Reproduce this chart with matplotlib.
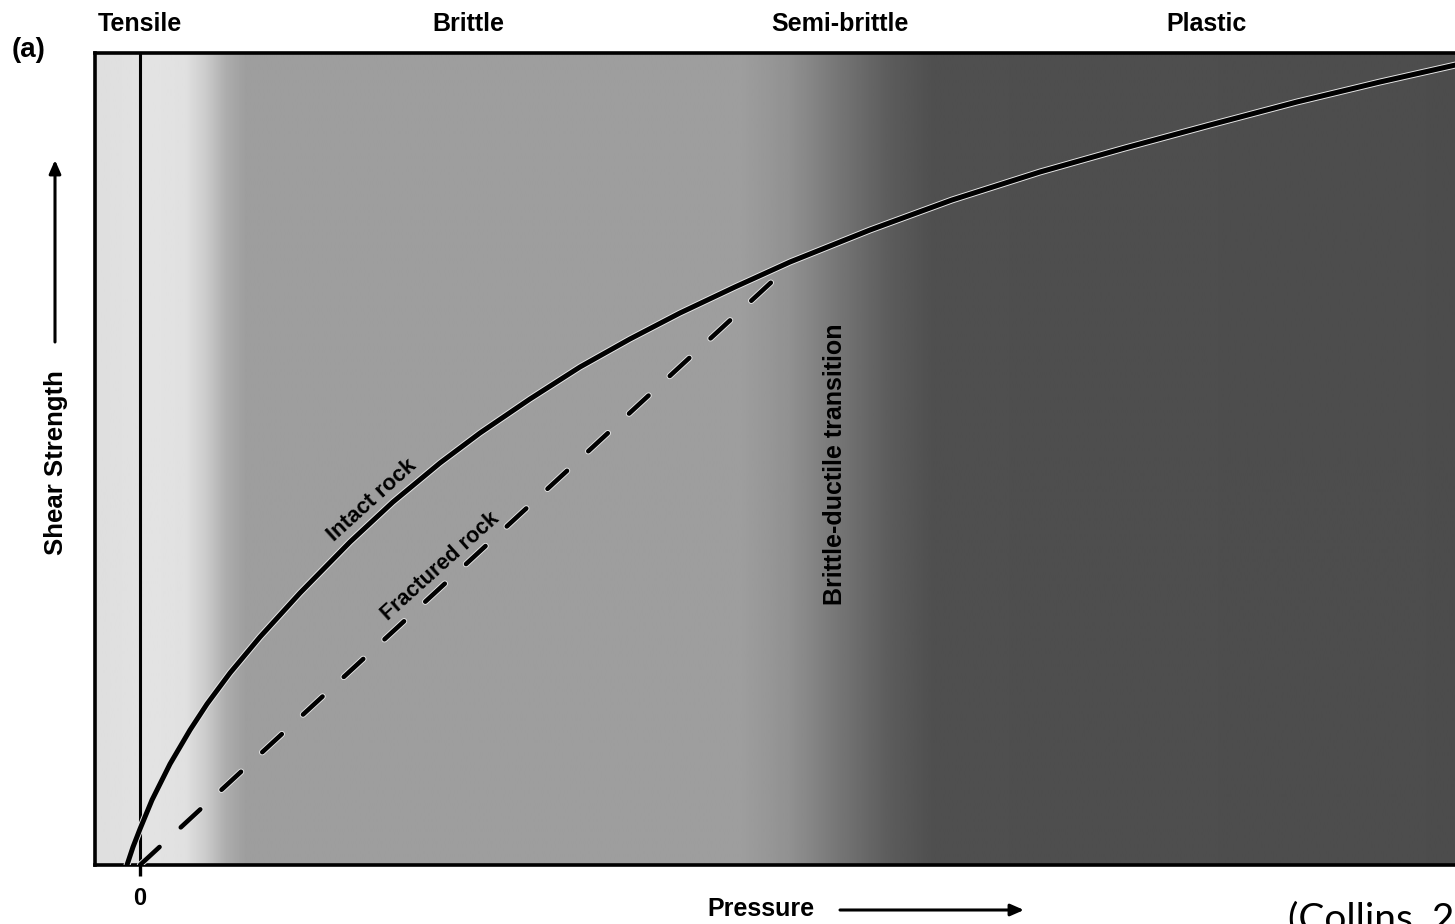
import numpy as np
import matplotlib
matplotlib.use('Agg')
import matplotlib.pyplot as plt
import matplotlib.patheffects as pe

plt.rcParams['font.family'] = ['Liberation Sans', 'DejaVu Sans']

# intact rock failure envelope (pressure, shear strength)
intact_p = [-0.13, -0.07, 0.00, 0.12, 0.30, 0.50, 0.67, 0.90, 1.20, 1.60,
            2.10, 2.53, 3.00, 3.40, 3.90, 4.40, 4.90, 5.40, 5.95, 6.50, 7.30,
            8.12, 9.00, 9.85, 10.70, 11.57, 12.40, 13.20]
intact_s = [0.00, 0.18, 0.36, 0.65, 1.01, 1.35, 1.61, 1.92, 2.28, 2.72,
            3.23, 3.63, 4.02, 4.32, 4.66, 4.98, 5.26, 5.52, 5.78, 6.03, 6.35,
            6.65, 6.93, 7.17, 7.40, 7.63, 7.83, 8.01]
# fractured rock (friction line) up to the brittle-ductile transition
fract_p = [0.0, 6.5]
fract_s = [0.0, 6.0]

regions = ['Tensile', 'Brittle', 'Semi-brittle', 'Plastic']
region_x = [140, 468, 840, 1207]   # label centres, px

W, H = 1455, 924
fig = plt.figure(figsize=(W / 100, H / 100), dpi=100, facecolor='white')
ax = fig.add_axes([95 / W, (H - 865) / H, (1470 - 95) / W, (865 - 53) / H])
xmin, xmax = -0.45, 13.3
ymin, ymax = 0.0, 8.12
ax.set_xlim(xmin, xmax)
ax.set_ylim(ymin, ymax)

# grey background bands (tensile / brittle / semi-brittle / plastic)
cols = np.linspace(95, 1470, 800)
shade = np.interp(cols, [95, 150, 185, 205, 225, 245, 740, 790, 840, 890, 935, 1470],
                  [0.87, 0.89, 0.88, 0.80, 0.68, 0.62, 0.62, 0.57, 0.46, 0.36, 0.31, 0.30])
ax.imshow(shade[np.newaxis, :], cmap='gray', vmin=0, vmax=1, aspect='auto',
          extent=(xmin, xmax, ymin, ymax), zorder=0, interpolation='bilinear')

halo = [pe.Stroke(linewidth=5.0, foreground='#e6e6e6'), pe.Normal()]
halo_d = [pe.Stroke(linewidth=4.6, foreground='#e6e6e6'), pe.Normal()]
ax.axvline(0, color='black', lw=2.2, zorder=2)
ax.plot(intact_p, intact_s, color='black', lw=3.6, solid_joinstyle='round',
        solid_capstyle='round', zorder=3, path_effects=halo)
ax.plot(fract_p, fract_s, color='black', lw=3.3, dashes=(5.8, 6.3),
        dash_capstyle='round', zorder=3, path_effects=halo_d)

for s in ax.spines.values():
    s.set_linewidth(2.6)
ax.set_xticks([0])
ax.set_xticklabels(['0'], fontsize=17, fontweight='bold')
ax.set_yticks([])
ax.tick_params(axis='x', length=8, width=2.4, pad=8)

ax.text(2.32, 3.65, 'Intact rock', rotation=42, rotation_mode='anchor',
        ha='center', va='center', fontsize=16, fontweight='bold')
ax.text(3.0, 2.99, 'Fractured rock', rotation=42, rotation_mode='anchor',
        ha='center', va='center', fontsize=15.5, fontweight='bold')
ax.text(6.95, 4.01, 'Brittle-ductile transition', rotation=90,
        ha='center', va='center', fontsize=18, fontweight='bold')


def fx(px):
    return px / W


def fy(py):
    return 1 - py / H


for name, x in zip(regions, region_x):
    fig.text(fx(x), fy(24), name, ha='center', va='center', fontsize=18,
             fontweight='bold')
fig.text(fx(29), fy(50), '(a)', ha='center', va='center', fontsize=20,
         fontweight='bold')

fig.text(fx(56), fy(463), 'Shear Strength', rotation=90, ha='center',
         va='center', fontsize=18.5, fontweight='bold')
fig.text(fx(761), fy(909), 'Pressure', ha='center', va='center', fontsize=18,
         fontweight='bold')
fig.text(fx(1288), fy(930), '(Collins, 2004)', ha='left', va='baseline',
         fontsize=28, family=['Lato', 'DejaVu Sans'])

arrow = dict(arrowstyle='-|>,head_length=0.8,head_width=0.35', color='black',
             lw=2.2, shrinkA=0, shrinkB=0)
ax.annotate('', xy=(fx(55), fy(160)), xytext=(fx(55), fy(342)),
            xycoords='figure fraction', textcoords='figure fraction',
            arrowprops=arrow, annotation_clip=False)
ax.annotate('', xy=(fx(1024), fy(910)), xytext=(fx(840), fy(910)),
            xycoords='figure fraction', textcoords='figure fraction',
            arrowprops=arrow, annotation_clip=False)

fig.savefig('out.png', dpi=100, facecolor='white')
